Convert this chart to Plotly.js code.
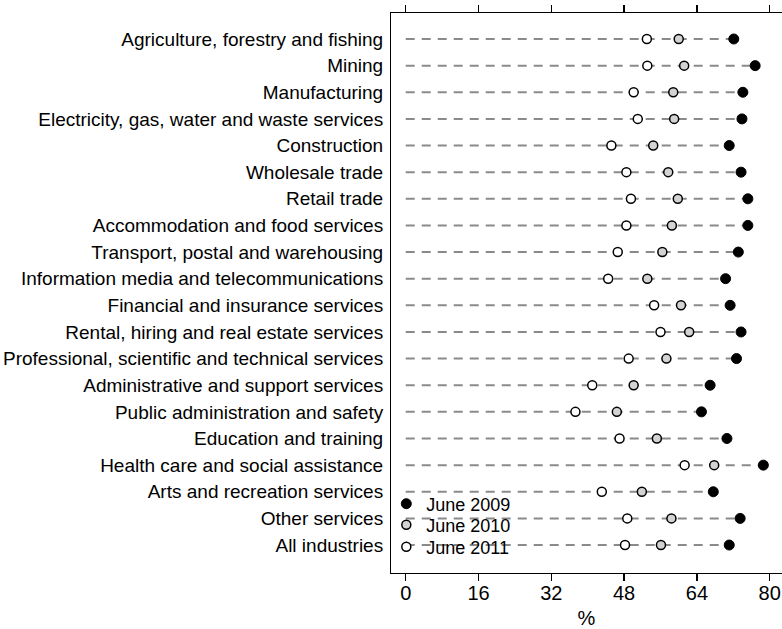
<!DOCTYPE html>
<html>
<head>
<meta charset="utf-8">
<script src="https://cdn.plot.ly/plotly-3.0.1.min.js"></script>
<style>html,body{margin:0;padding:0;background:#fff;}#chart{width:782px;height:629px;}</style>
</head>
<body>
<div id="chart"></div>
<script>
const categories = [
  "Agriculture, forestry and fishing",
  "Mining",
  "Manufacturing",
  "Electricity, gas, water and waste services",
  "Construction",
  "Wholesale trade",
  "Retail trade",
  "Accommodation and food services",
  "Transport, postal and warehousing",
  "Information media and telecommunications",
  "Financial and insurance services",
  "Rental, hiring and real estate services",
  "Professional, scientific and technical services",
  "Administrative and support services",
  "Public administration and safety",
  "Education and training",
  "Health care and social assistance",
  "Arts and recreation services",
  "Other services",
  "All industries"
];
const june2009 = [72.1, 76.8, 74.1, 73.9, 71.1, 73.7, 75.2, 75.2, 73.1, 70.3, 71.3, 73.7, 72.7, 66.9, 65.0, 70.6, 78.6, 67.6, 73.5, 71.1];
const june2010 = [60.0, 61.2, 58.8, 59.0, 54.4, 57.7, 59.8, 58.5, 56.4, 53.1, 60.5, 62.3, 57.3, 50.1, 46.4, 55.2, 67.8, 51.9, 58.4, 56.1];
const june2011 = [53.0, 53.1, 50.1, 51.0, 45.2, 48.5, 49.5, 48.5, 46.6, 44.5, 54.6, 56.0, 49.0, 41.0, 37.3, 47.0, 61.3, 43.1, 48.7, 48.2];
const xTicks = [0, 16, 32, 48, 64, 80];

const idx = categories.map((c, i) => i);

// dashed guide lines from 0 to the largest value in each row
const lx = [], ly = [];
categories.forEach((c, i) => {
  const m = Math.max(june2009[i], june2010[i], june2011[i]);
  lx.push(0, m, null);
  ly.push(i, i, null);
});

const traces = [
  {x: lx, y: ly, mode: 'lines', showlegend: false, hoverinfo: 'skip',
   line: {color: '#8a8a8a', width: 2, dash: '9px,7px'}},
  {x: june2009, y: idx, mode: 'markers', name: 'June 2009', legend: 'legend',
   marker: {symbol: 'circle', size: 10, color: '#000000', line: {color: '#000000', width: 1}}},
  {x: june2010, y: idx, mode: 'markers', name: 'June 2010', legend: 'legend2',
   marker: {symbol: 'circle', size: 9, color: '#d3d3d3', line: {color: '#000000', width: 1.5}}},
  {x: june2011, y: idx, mode: 'markers', name: 'June 2011', legend: 'legend3',
   marker: {symbol: 'circle', size: 9, color: '#ffffff', line: {color: '#000000', width: 1.5}}}
];

const legBase = {x: -0.012, xanchor: 'left', yanchor: 'middle', bgcolor: 'rgba(0,0,0,0)',
                 font: {size: 18}, borderwidth: 0};

const layout = {
  width: 782, height: 629,
  margin: {l: 391, r: 0, t: 13, b: 56, pad: 0},
  paper_bgcolor: '#ffffff', plot_bgcolor: '#ffffff',
  font: {family: '"Liberation Sans", Arial, sans-serif', color: '#000000', size: 19},
  showlegend: true,
  legend: Object.assign({}, legBase, {y: 0.1232}),
  legend2: Object.assign({}, legBase, {y: 0.0857}),
  legend3: Object.assign({}, legBase, {y: 0.0464}),
  xaxis: {
    range: [-3.23, 82.7], tickvals: xTicks, ticktext: xTicks.map(String),
    showgrid: false, zeroline: false, showline: true, linecolor: '#000', linewidth: 1,
    mirror: 'ticks', ticks: 'outside', ticklen: 7, tickwidth: 1.5, tickcolor: '#000',
    ticklabelstandoff: -5,
    tickfont: {size: 20}, title: {text: '%', font: {size: 20}, standoff: 9}
  },
  yaxis: {
    range: [20.05, -0.976], tickvals: idx, ticktext: categories,
    showgrid: false, zeroline: false, showline: true, linecolor: '#000', linewidth: 1,
    ticks: '', ticklabelstandoff: 3, tickfont: {size: 19}
  }
};

Plotly.newPlot('chart', traces, layout, {displayModeBar: false, staticPlot: true});
</script>
</body>
</html>
